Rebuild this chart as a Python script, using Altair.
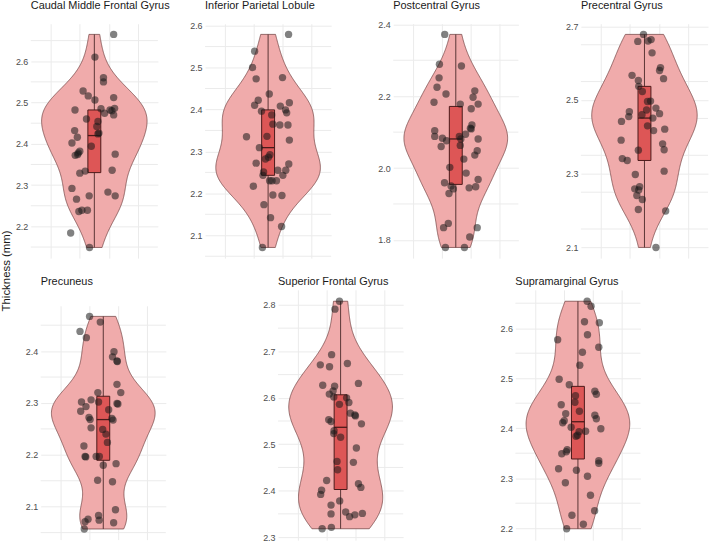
import altair as alt
import numpy as np
import pandas as pd

FONT = "Liberation Sans"

# ---------------- data ----------------
regions = ["Caudal Middle Frontal Gyrus", "Inferior Parietal Lobule", "Postcentral Gyrus",
           "Precentral Gyrus", "Precuneus", "Superior Frontal Gyrus", "Supramarginal Gyrus"]

cmf_y = [2.665, 2.610, 2.560, 2.550, 2.528, 2.516, 2.506, 2.512, 2.482, 2.485, 2.474, 2.482, 2.480, 2.470,
         2.486, 2.460, 2.454, 2.442, 2.432, 2.416, 2.424, 2.426, 2.402, 2.394, 2.382, 2.378, 2.374, 2.372,
         2.375, 2.336, 2.329, 2.334, 2.292, 2.283, 2.274, 2.274, 2.266, 2.236, 2.239, 2.239, 2.184, 2.149]
cmf_x = [0.165, 0.005, 0.078, 0.078, -0.096, -0.052, 0.005, 0.165, -0.165, 0.057, 0.088, 0.134, 0.150, 0.165,
         0.173, -0.067, 0.031, 0.021, -0.168, -0.145, 0.031, 0.039, -0.191, -0.026, -0.124, -0.137, -0.142, -0.163,
         0.178, 0.152, -0.124, -0.078, -0.191, 0.116, 0.178, -0.044, -0.152, -0.132, -0.106, -0.059, -0.202, -0.041]

ipl_y = [2.579, 2.539, 2.500, 2.473, 2.476, 2.437, 2.422, 2.410, 2.396, 2.408, 2.399, 2.392, 2.416,
         2.387, 2.365, 2.363, 2.363, 2.335, 2.336, 2.327, 2.309, 2.292, 2.286, 2.282, 2.272, 2.270, 2.251, 2.255,
         2.255, 2.243, 2.243, 2.230, 2.230, 2.230, 2.217, 2.196, 2.195, 2.173, 2.142, 2.121, 2.071]
ipl_x = [0.176, -0.116, -0.134, -0.103, 0.124, 0.010, -0.085, -0.116, -0.057, 0.105, 0.150, 0.160, 0.183,
         0.031, 0.041, 0.101, 0.171, -0.186, -0.010, 0.183, -0.075, 0.016, 0.003, -0.023, -0.103, 0.178, -0.039,
         0.083, 0.152, 0.127, -0.044, 0.013, 0.034, 0.072, -0.127, 0.041, 0.119, -0.036, 0.021, 0.116, -0.049]

pcg_y = [2.372, 2.289, 2.284, 2.251, 2.225, 2.206, 2.215, 2.197, 2.183, 2.178, 2.178, 2.165, 2.120, 2.109,
         2.111, 2.104, 2.088, 2.083, 2.076, 2.094, 2.088, 2.081, 2.081, 2.060, 2.063, 2.048, 2.036, 2.025,
         2.002, 1.986, 1.968, 1.959, 1.950, 1.942, 1.945, 1.948, 1.929, 1.846, 1.834, 1.834, 1.808, 1.779, 1.779]
pcg_x = [-0.096, -0.142, 0.049, -0.145, -0.163, -0.085, 0.165, 0.150, -0.189, 0.039, 0.194, 0.134, 0.140, 0.134,
         0.127, -0.183, -0.183, -0.116, -0.080, 0.085, 0.031, 0.044, 0.194, -0.127, 0.039, 0.186, 0.165, 0.070,
         -0.052, 0.090, 0.194, -0.098, -0.041, -0.021, 0.116, 0.173, -0.059, -0.065, -0.106, 0.186, 0.121, -0.090, 0.075]

prc_y = [2.678, 2.659, 2.660, 2.664, 2.628, 2.588, 2.580, 2.558, 2.567, 2.553, 2.537, 2.523, 2.497, 2.496,
         2.473, 2.478, 2.463, 2.468, 2.455, 2.460, 2.451, 2.442, 2.430, 2.417, 2.421, 2.391, 2.381, 2.365,
         2.364, 2.341, 2.336, 2.307, 2.298, 2.259, 2.265, 2.256, 2.241, 2.230, 2.203, 2.199, 2.100]
prc_x = [-0.008, -0.057, 0.031, 0.057, 0.065, 0.137, 0.129, 0.163, -0.106, -0.052, -0.049, -0.018, 0.052, 0.026,
         0.018, 0.098, 0.129, -0.129, -0.134, -0.021, 0.072, -0.196, 0.026, 0.078, 0.173, -0.199, 0.155, 0.168,
         -0.052, -0.189, -0.147, 0.168, -0.078, -0.083, -0.041, -0.049, -0.065, -0.018, -0.052, 0.181, 0.098]

pcu_y = [2.467, 2.456, 2.438, 2.426, 2.399, 2.389, 2.381, 2.380, 2.336, 2.320, 2.320, 2.302, 2.306, 2.302,
         2.299, 2.298, 2.284, 2.293, 2.287, 2.272, 2.268, 2.270, 2.267, 2.252, 2.249, 2.240, 2.224, 2.217,
         2.197, 2.196, 2.197, 2.197, 2.180, 2.183, 2.151, 2.148, 2.094, 2.083, 2.074, 2.076, 2.071, 2.069, 2.057]
pcu_x = [-0.119, -0.026, -0.202, -0.147, 0.093, 0.080, 0.119, 0.122, 0.119, 0.152, -0.047, -0.189, -0.106, -0.041,
         0.119, 0.127, -0.196, -0.150, 0.047, -0.124, -0.114, 0.075, 0.085, -0.106, -0.005, 0.023, 0.036, -0.168,
         -0.158, -0.152, -0.062, -0.034, 0.000, 0.111, -0.049, 0.080, 0.106, -0.041, -0.036, -0.132, -0.158, 0.090, -0.165]

sfg_y = [2.808, 2.791, 2.693, 2.671, 2.667, 2.674, 2.627, 2.631, 2.625, 2.615, 2.608, 2.602, 2.600, 2.590,
         2.586, 2.567, 2.563, 2.561, 2.553, 2.549, 2.544, 2.529, 2.523, 2.515, 2.492, 2.461, 2.463, 2.445,
         2.422, 2.415, 2.407, 2.401, 2.392, 2.378, 2.369, 2.350, 2.354, 2.344, 2.348, 2.351, 2.321, 2.318]
sfg_x = [-0.010, -0.049, -0.078, -0.176, -0.096, 0.059, -0.155, 0.155, -0.052, -0.065, -0.098, -0.059, 0.052, 0.072,
         -0.010, 0.085, 0.124, 0.129, -0.103, -0.083, 0.181, -0.057, -0.059, 0.000, 0.137, 0.111, -0.031, -0.026,
         -0.121, 0.155, 0.176, -0.165, -0.173, -0.008, -0.083, -0.083, 0.044, 0.078, 0.124, 0.189, -0.080, -0.160]

smg_y = [2.654, 2.644, 2.613, 2.611, 2.587, 2.577, 2.562, 2.552, 2.526, 2.498, 2.487, 2.474, 2.468, 2.465,
         2.452, 2.447, 2.434, 2.429, 2.426, 2.419, 2.415, 2.411, 2.399, 2.402, 2.394, 2.393, 2.384, 2.386,
         2.357, 2.353, 2.349, 2.335, 2.330, 2.319, 2.316, 2.304, 2.291, 2.266, 2.235, 2.226, 2.208, 2.199]
smg_x = [0.080, 0.114, 0.057, 0.186, 0.083, -0.176, 0.181, 0.039, 0.016, -0.163, -0.075, 0.147, 0.160, -0.021,
         -0.026, -0.145, 0.013, -0.106, 0.147, 0.160, -0.119, -0.132, 0.199, -0.059, 0.067, 0.010, -0.016, -0.003,
         -0.093, -0.101, -0.140, 0.181, 0.181, -0.168, -0.013, 0.083, -0.109, 0.109, 0.145, -0.052, 0.047, -0.098]

x_grid = [-0.375, -0.25, -0.125, 0.0, 0.125, 0.25, 0.375]

# ---------------- style ----------------
VIOLIN_FILL = "#F0ABAB"
VIOLIN_STROKE = "#7A4A4A"
BOX_FILL = "#DD5656"
BOX_STROKE = "#4A1A1A"
LINE_COL = "#5A3535"
GRID = "#EBEBEB"
LABEL_SIZE = 9
EXTRA = 9.5   # extra gap vega puts between title baseline and view bounds


def make_panel(name, ys, xs, w, h, major, minor, title=True, gap=13.7):
    df = pd.DataFrame({"value": ys, "jit": xs})
    lo, hi = min(ys), max(ys)
    pad = 0.05 * (hi - lo)
    dom = [lo - pad, hi + pad]
    start = np.ceil(dom[0] / minor - 1e-9) * minor
    allv = [round(float(v), 3) for v in np.arange(start, dom[1] + 1e-9, minor)]
    majors = [v for v in allv if abs(v / major - round(v / major)) < 0.01]
    minors = [v for v in allv if v not in majors]
    ysc = alt.Scale(domain=dom, nice=False, zero=False)
    xsc = alt.Scale(domain=[-0.5, 0.5], nice=False, zero=False)
    yax = alt.Axis(values=majors, format=".1f", grid=True, title=None)
    xax = alt.Axis(values=x_grid, labels=False, ticks=False, domain=False, grid=True, title=None)

    arr = np.array(ys)
    sd = arr.std(ddof=1)
    q75, q25 = np.percentile(arr, [75, 25])
    bw = 0.9 * min(sd, (q75 - q25) / 1.34) * len(arr) ** (-0.2)

    base = alt.Chart(df)
    minor_grid = alt.Chart(pd.DataFrame({"g": minors})).mark_rule(color=GRID, strokeWidth=1).encode(
        y=alt.Y("g:Q", scale=ysc, axis=yax, title=None)
    )
    violin = base.transform_density(
        "value", as_=["value", "density"], extent=[lo, hi], bandwidth=float(bw), steps=256
    ).transform_joinaggregate(maxd="max(density)").transform_calculate(
        xr="0.45*datum.density/datum.maxd", xl="-0.45*datum.density/datum.maxd"
    ).mark_area(orient="horizontal", fill=VIOLIN_FILL, stroke=VIOLIN_STROKE, strokeWidth=0.8).encode(
        y=alt.Y("value:Q", title=None),
        x=alt.X("xl:Q", scale=xsc, axis=xax, title=None),
        x2="xr:Q",
    )
    whisk = base.mark_rule(color=LINE_COL, strokeWidth=1).encode(
        x=alt.datum(0), y=alt.Y("min(value):Q", title=None), y2="max(value):Q"
    )
    box = base.mark_bar(size=13, fill=BOX_FILL, stroke=BOX_STROKE, strokeWidth=1).encode(
        x=alt.datum(0), y=alt.Y("q1(value):Q", title=None), y2="q3(value):Q"
    )
    med = base.mark_tick(orient="horizontal", size=13, thickness=1.3, color=BOX_STROKE).encode(
        x=alt.datum(0), y=alt.Y("median(value):Q", title=None)
    )
    pts = base.mark_circle(size=55, color="#1a1a1a", opacity=0.55).encode(
        x=alt.X("jit:Q", title=None), y=alt.Y("value:Q", title=None)
    )
    ch = alt.layer(minor_grid, violin, whisk, box, med, pts).properties(width=w, height=h)
    if title:
        # top label may stick out above the plot and push the title up: compensate
        dist = (dom[1] - max(majors)) / (dom[1] - dom[0]) * h
        over = max(0.0, LABEL_SIZE / 2 - dist)
        ch = ch.properties(title=alt.TitleParams(name, anchor="start", frame="group", fontSize=11,
                                                 fontWeight="normal", font=FONT, color="#1a1a1a",
                                                 offset=round(gap - EXTRA - over, 2),
                                                 baseline="alphabetic"))
    return ch


def spacer(w, h):
    return alt.Chart(pd.DataFrame({"s": [0]})).mark_point(size=1, opacity=0).encode(
        x=alt.X("s:Q", axis=None), y=alt.Y("s:Q", axis=None)
    ).properties(width=w, height=h)


TOP_H = 236
GAP_TOP = 13.7
GAP_BOT = 3.0
p1 = make_panel(regions[0], cmf_y, cmf_x, 128, TOP_H, 0.1, 0.05, gap=GAP_TOP)
p2 = make_panel(regions[1], ipl_y, ipl_x, 127, TOP_H, 0.1, 0.05, gap=GAP_TOP)
p3 = make_panel(regions[2], pcg_y, pcg_x, 126, TOP_H, 0.2, 0.1, gap=GAP_TOP)
p4 = make_panel(regions[3], prc_y, prc_x, 128, TOP_H, 0.1, 0.05, gap=GAP_TOP)

p5 = make_panel(regions[4], pcu_y, pcu_x, 126, 235.5, 0.1, 0.05, title=False)
p5_block = alt.vconcat(spacer(1, 16), p5, spacing=0).properties(
    title=alt.TitleParams(regions[4], anchor="start", frame="group", fontSize=11, fontWeight="normal",
                          font=FONT, color="#1a1a1a", offset=GAP_BOT - EXTRA, baseline="alphabetic"))
p6 = make_panel(regions[5], sfg_y, sfg_x, 126, 252, 0.1, 0.05, gap=GAP_BOT)
p7 = make_panel(regions[6], smg_y, smg_x, 126, 252, 0.1, 0.05, gap=GAP_BOT)

top = alt.hconcat(spacer(1, 1),
                  alt.hconcat(alt.hconcat(p1, p2, spacing=18.5), p3, p4, spacing=46),
                  spacing=0)
bottom = alt.hconcat(spacer(11, 1), alt.hconcat(p5_block, p6, p7, spacing=96), spacing=0)

chart = alt.vconcat(top, bottom, spacing=18).properties(
    title=alt.TitleParams("Thickness (mm)", orient="left", anchor="middle", fontSize=11.5,
                          fontWeight="normal", font=FONT, color="#1a1a1a", offset=1),
    padding={"left": 1, "top": -3, "right": 0, "bottom": 0},
).configure_view(stroke=None).configure_axis(
    labelFont=FONT, labelFontSize=LABEL_SIZE, labelColor="#4d4d4d", ticks=False, domain=False,
    gridColor=GRID, gridWidth=1, labelPadding=3
)

chart.save("out.html", embed_options={"renderer": "svg", "actions": False})
